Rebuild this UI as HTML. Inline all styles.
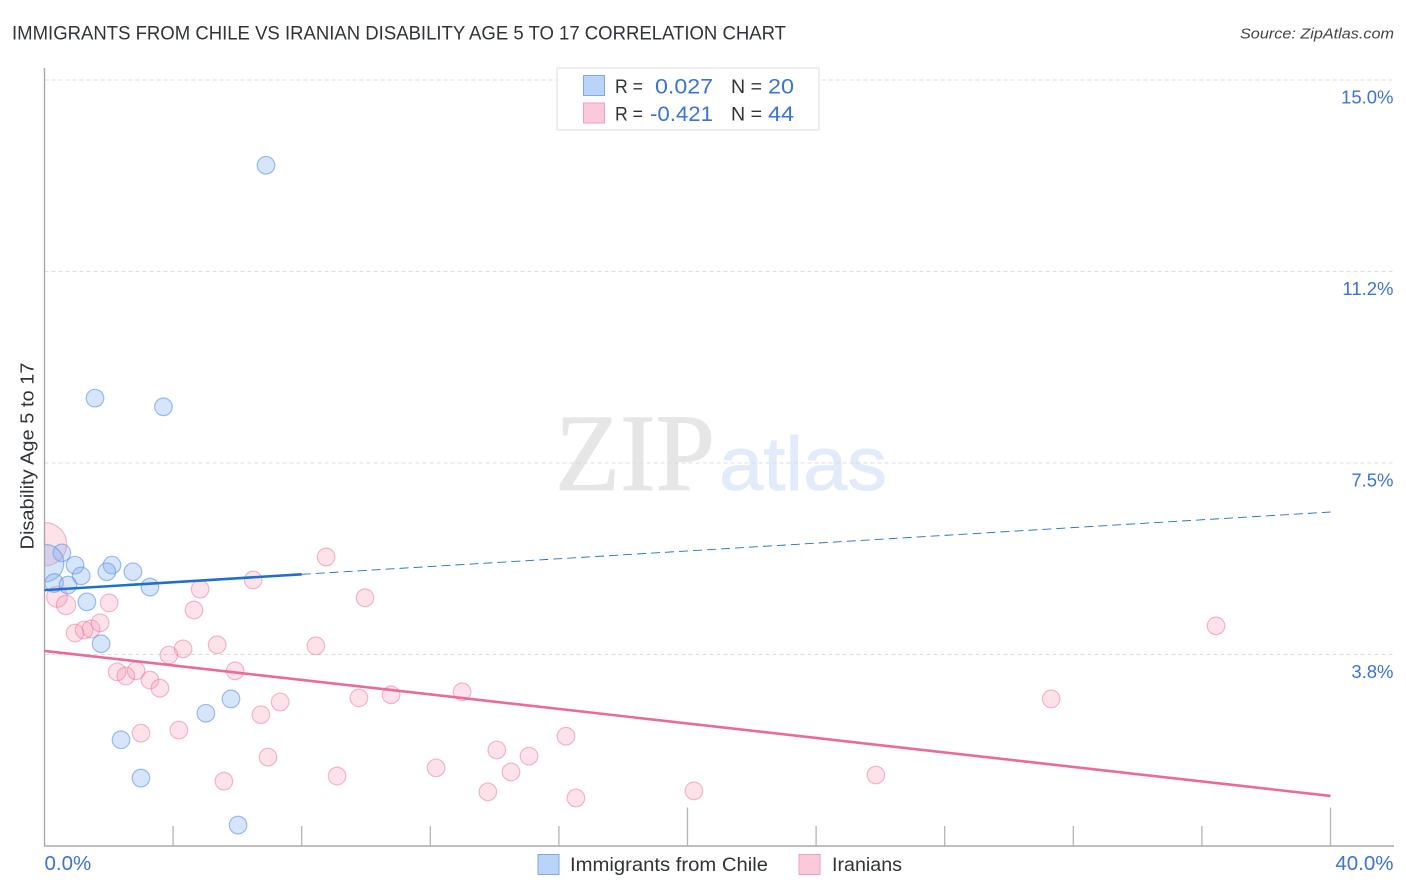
<!DOCTYPE html>
<html lang="en">
<head>
<meta charset="utf-8">
<title>Immigrants from Chile vs Iranian Disability Age 5 to 17 Correlation Chart</title>
<style>
html,body{margin:0;padding:0;background:#fff;width:1406px;height:892px;overflow:hidden}
svg{display:block;font-family:"Liberation Sans",sans-serif}
</style>
</head>
<body>
<svg id="chart" xmlns="http://www.w3.org/2000/svg" width="1406" height="892" viewBox="0 0 1406 892">
  <text x="12" y="39.5" font-size="19.5" fill="#2f3438" textLength="774" lengthAdjust="spacingAndGlyphs">IMMIGRANTS FROM CHILE VS IRANIAN DISABILITY AGE 5 TO 17 CORRELATION CHART</text>
  <text x="1394" y="38.5" font-size="15" font-style="italic" fill="#444" text-anchor="end" textLength="154" lengthAdjust="spacingAndGlyphs">Source: ZipAtlas.com</text>
  <g>
    <text x="555" y="490" font-family="'Liberation Serif',serif" font-size="110" fill="#e6e6e6" stroke="#e6e6e6" stroke-width="1" textLength="160" lengthAdjust="spacingAndGlyphs">ZIP</text>
    <text x="719" y="490" font-size="76" fill="#e1ebfa" stroke="#e1ebfa" stroke-width="0.8" textLength="168" lengthAdjust="spacingAndGlyphs">atlas</text>
  </g>
  <g id="grid"></g>
  <g id="marks"></g>
  <rect x="0" y="500" width="44.5" height="120" fill="#fff"/>
  <g id="axes"></g>
  <g id="trends"></g>
  <text transform="translate(33.5,456) rotate(-90)" font-size="18.5" fill="#2f3438" text-anchor="middle" textLength="187" lengthAdjust="spacingAndGlyphs">Disability Age 5 to 17</text>
  <g>
    <rect x="557" y="68" width="262" height="62" fill="#fff" stroke="#ddd" stroke-width="1"/>
    <rect x="583.5" y="75.5" width="21" height="20" fill="#b9d4f8" stroke="#7fa9e4"/>
    <rect x="583.5" y="103" width="21" height="20" fill="#fcc9da" stroke="#eea2ba"/>
    <g font-size="19.5" fill="#2f3438">
      <text x="615" y="93" textLength="28" lengthAdjust="spacingAndGlyphs">R =</text>
      <text x="731" y="93" textLength="31" lengthAdjust="spacingAndGlyphs">N =</text>
      <text x="615" y="120.5" textLength="28" lengthAdjust="spacingAndGlyphs">R =</text>
      <text x="731" y="120.5" textLength="31" lengthAdjust="spacingAndGlyphs">N =</text>
    </g>
    <g font-size="21" fill="#3b73d6">
      <text x="655" y="93.5" textLength="58" lengthAdjust="spacingAndGlyphs">0.027</text>
      <text x="768" y="93.5" textLength="26" lengthAdjust="spacingAndGlyphs">20</text>
      <text x="650" y="121" textLength="63" lengthAdjust="spacingAndGlyphs">-0.421</text>
      <text x="768" y="121" textLength="26" lengthAdjust="spacingAndGlyphs">44</text>
    </g>
  </g>
  <g>
    <rect x="538" y="854.5" width="21" height="20" fill="#b9d4f8" stroke="#7fa9e4"/>
    <text x="570" y="871" font-size="19.5" fill="#2f3438" textLength="198" lengthAdjust="spacingAndGlyphs">Immigrants from Chile</text>
    <rect x="799" y="854.5" width="21" height="20" fill="#fcc9da" stroke="#eea2ba"/>
    <text x="832" y="871" font-size="19.5" fill="#2f3438" textLength="70" lengthAdjust="spacingAndGlyphs">Iranians</text>
  </g>
</svg>
<script>
const blueX = [6.89,1.57,3.70,0.54,0.02,0.95,2.10,1.94,2.75,1.14,0.30,0.73,3.28,1.32,1.76,5.80,5.02,2.38,3.00,6.02];
const blueY = [13.33,8.77,8.60,5.74,5.54,5.50,5.50,5.37,5.37,5.29,5.15,5.11,5.07,4.78,3.96,2.88,2.60,2.08,1.33,0.41];
const blueWeight = [1,1,1,1,4.5,1,1,1,1,1,1.1,1,1,1,1,1,1,1,1,1];
const pinkX = [0.02,0.39,0.67,2.01,0.95,1.23,1.45,1.73,8.76,6.49,4.84,4.65,9.97,36.44,5.37,8.44,4.31,3.87,5.93,2.26,2.53,2.85,3.28,3.59,12.99,10.78,9.78,31.31,7.33,6.73,16.22,3.00,4.18,14.07,15.07,6.95,12.18,14.51,9.10,25.86,5.58,13.79,20.20,16.53];
const pinkY = [5.91,4.88,4.72,4.76,4.17,4.23,4.25,4.37,5.66,5.21,5.03,4.62,4.86,4.31,3.94,3.92,3.86,3.74,3.43,3.41,3.33,3.43,3.25,3.09,3.02,2.96,2.90,2.88,2.82,2.57,2.15,2.21,2.27,1.88,1.76,1.74,1.53,1.45,1.37,1.39,1.27,1.06,1.08,0.94];
const pinkWeight = [6,1.4,1.2,1,1,1,1,1,1,1,1,1,1,1,1,1,1,1,1,1,1,1,1,1,1,1,1,1,1,1,1,1,1,1,1,1,1,1,1,1,1,1,1,1];
const blueTrendX = [0,8,40];
const blueTrendY = [5.01,5.32,6.54];
const pinkTrendX = [0,40];
const pinkTrendY = [3.82,0.98];
const yTicks = [3.75,7.5,11.25,15];
const yTickLabels = ["3.8%","7.5%","11.2%","15.0%"];
const xTicks = [4,8,12,16,20,24,28,32,36,40];
const xMajorTicks = [20,40];
const xEndTicks = [0,40];
const xEndLabels = ["0.0%","40.0%"];

const X = v => 44.5 + v * 32.15;
const Y = v => 846 - v * 51.07;
const R = w => 8.8 * Math.sqrt(w);
const NS = "http://www.w3.org/2000/svg";
function make(tag, attrs, parent) {
  const el = document.createElementNS(NS, tag);
  for (const k in attrs) el.setAttribute(k, attrs[k]);
  parent.appendChild(el);
  return el;
}
const grid = document.getElementById("grid");
const axes = document.getElementById("axes");
const marks = document.getElementById("marks");
const trends = document.getElementById("trends");

yTicks.forEach((t, i) => {
  const line = make("line", {x1: 44.5, x2: 1394, y1: Y(t), y2: Y(t), stroke: "#dcdcdc", "stroke-width": 1, "stroke-dasharray": "4 3"}, grid);
  
  
  const label = make("text", {x: 1393.5, y: Y(t) + 23.5, "font-size": 18.5, fill: "#3b73d6", "text-anchor": "end"}, axes);
  label.textContent = yTickLabels[i];
  
  
});

const yAxis = make("line", {x1: 44.5, x2: 44.5, y1: 68, y2: 846, stroke: "#a8a8a8", "stroke-width": 1.4}, axes);


const xAxis = make("line", {x1: 44, x2: 1394, y1: 846, y2: 846, stroke: "#a8a8a8", "stroke-width": 1.4}, axes);



xTicks.forEach(t => {
  const tall = xMajorTicks.includes(t);
  const tick = make("line", {x1: X(t), x2: X(t), y1: 846, y2: tall ? 807.5 : 826, stroke: "#b4b4b4", "stroke-width": 1.3}, axes);
  
  
});

xEndTicks.forEach((t, i) => {
  const label = make("text", {x: i === 0 ? X(t) : 1393.5, y: 870, "font-size": 20.5, fill: "#3b73d6", "text-anchor": i === 0 ? "start" : "end"}, axes);
  label.textContent = xEndLabels[i];
  
  
});

pinkX.forEach((v, i) => {
  const c = make("circle", {cx: X(v), cy: Y(pinkY[i]), r: R(pinkWeight[i]), fill: "rgba(247,150,180,0.28)", stroke: "rgba(232,120,160,0.5)", "stroke-width": 1.2}, marks);
  
  
});
blueX.forEach((v, i) => {
  const c = make("circle", {cx: X(v), cy: Y(blueY[i]), r: R(blueWeight[i]), fill: "rgba(130,175,240,0.32)", stroke: "rgba(80,140,228,0.55)", "stroke-width": 1.2}, marks);
  
  
});

const blueDash = make("line", {x1: X(blueTrendX[1]), y1: Y(blueTrendY[1]), x2: X(blueTrendX[2]), y2: Y(blueTrendY[2]), stroke: "#1f6fd0", "stroke-width": 0.9, "stroke-dasharray": "9 5"}, trends);


const blueSolid = make("line", {x1: X(blueTrendX[0]), y1: Y(blueTrendY[0]), x2: X(blueTrendX[1]), y2: Y(blueTrendY[1]), stroke: "#1f6fd0", "stroke-width": 2.6}, trends);


const pinkSolid = make("line", {x1: X(pinkTrendX[0]), y1: Y(pinkTrendY[0]), x2: X(pinkTrendX[1]), y2: Y(pinkTrendY[1]), stroke: "#ea6a9a", "stroke-width": 2.6}, trends);


</script>
</body>
</html>
